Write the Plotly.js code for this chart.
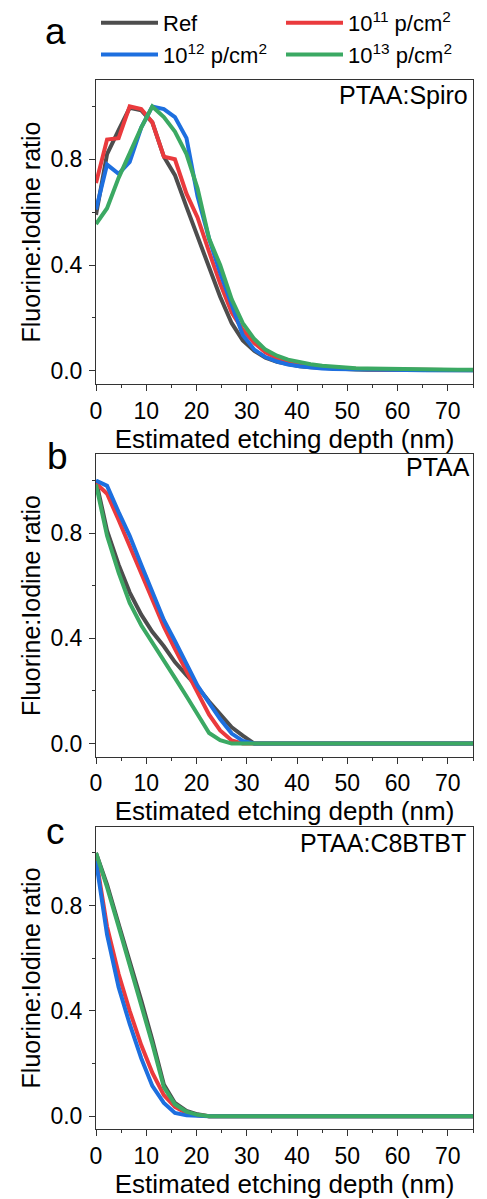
<!DOCTYPE html>
<html><head><meta charset="utf-8">
<script src="https://cdn.plot.ly/plotly-3.0.1.min.js"></script>
<style>html,body{margin:0;padding:0;background:#fff}#chart{width:487px;height:1199px}</style>
</head><body><div id="chart"></div>
<script>
// Estimated etching depth (nm), sampling of the measured profiles
const depth = [0, 2.2, 4.5, 6.7, 9.0, 11.2, 13.5, 15.7, 18.0, 20.2, 22.5, 24.7, 27.0, 29.2, 31.5, 33.7, 36.0, 38.2, 40.5, 42.7, 45.0, 47.2, 49.5, 51.7, 54.0, 56.2, 58.5, 60.7, 63.0, 65.2, 67.5, 69.7, 72.0, 74.2, 76.5];

const seriesNames = ['Ref', '10<sup>11</sup> p/cm<sup>2</sup>', '10<sup>12</sup> p/cm<sup>2</sup>', '10<sup>13</sup> p/cm<sup>2</sup>'];
const seriesColors = ['#4d4d4d', '#ea3a3d', '#1d6fdf', '#3ba963'];

// Panel a: PTAA:Spiro
const spiroRef = [0.59, 0.82, 0.91, 0.995, 0.985, 0.94, 0.81, 0.74, 0.62, 0.51, 0.40, 0.28, 0.18, 0.115, 0.075, 0.050, 0.034, 0.024, 0.017, 0.013, 0.010, 0.008, 0.006, 0.005, 0.004, 0.004, 0.003, 0.003, 0.003, 0.002, 0.002, 0.002, 0.002, 0.002, 0.002];
const spiro11 = [0.71, 0.875, 0.88, 1.0, 0.99, 0.94, 0.81, 0.80, 0.67, 0.58, 0.45, 0.33, 0.22, 0.155, 0.105, 0.070, 0.047, 0.032, 0.023, 0.017, 0.013, 0.010, 0.008, 0.007, 0.006, 0.005, 0.005, 0.004, 0.004, 0.004, 0.003, 0.003, 0.003, 0.003, 0.003];
const spiro12 = [0.61, 0.78, 0.745, 0.79, 0.92, 1.0, 0.99, 0.96, 0.88, 0.66, 0.50, 0.37, 0.25, 0.135, 0.080, 0.052, 0.035, 0.024, 0.017, 0.012, 0.009, 0.007, 0.006, 0.005, 0.004, 0.004, 0.003, 0.003, 0.003, 0.002, 0.002, 0.002, 0.002, 0.002, 0.002];
const spiro13 = [0.555, 0.615, 0.73, 0.82, 0.92, 1.0, 0.96, 0.905, 0.82, 0.69, 0.50, 0.40, 0.27, 0.18, 0.12, 0.080, 0.057, 0.042, 0.032, 0.025, 0.019, 0.015, 0.012, 0.010, 0.009, 0.008, 0.007, 0.006, 0.006, 0.005, 0.005, 0.004, 0.004, 0.004, 0.004];

// Panel b: PTAA
const ptaaRef = [1.0, 0.81, 0.68, 0.575, 0.49, 0.425, 0.37, 0.31, 0.26, 0.215, 0.16, 0.11, 0.062, 0.03, 0, 0, 0, 0, 0, 0, 0, 0, 0, 0, 0, 0, 0, 0, 0, 0, 0, 0, 0, 0, 0];
const ptaa11 = [0.99, 0.95, 0.85, 0.75, 0.64, 0.54, 0.445, 0.36, 0.275, 0.19, 0.11, 0.05, 0.012, 0, 0, 0, 0, 0, 0, 0, 0, 0, 0, 0, 0, 0, 0, 0, 0, 0, 0, 0, 0, 0, 0];
const ptaa12 = [1.0, 0.98, 0.88, 0.79, 0.68, 0.58, 0.47, 0.39, 0.30, 0.22, 0.155, 0.093, 0.038, 0.01, 0, 0, 0, 0, 0, 0, 0, 0, 0, 0, 0, 0, 0, 0, 0, 0, 0, 0, 0, 0, 0];
const ptaa13 = [0.985, 0.79, 0.65, 0.535, 0.45, 0.385, 0.32, 0.25, 0.18, 0.11, 0.04, 0.013, 0, 0, 0, 0, 0, 0, 0, 0, 0, 0, 0, 0, 0, 0, 0, 0, 0, 0, 0, 0, 0, 0, 0];

// Panel c: PTAA:C8BTBT
const c8Ref = [1.0, 0.88, 0.73, 0.59, 0.44, 0.29, 0.12, 0.05, 0.02, 0.007, 0, 0, 0, 0, 0, 0, 0, 0, 0, 0, 0, 0, 0, 0, 0, 0, 0, 0, 0, 0, 0, 0, 0, 0, 0];
const c811 = [0.98, 0.72, 0.54, 0.40, 0.27, 0.165, 0.08, 0.035, 0.012, 0.003, 0, 0, 0, 0, 0, 0, 0, 0, 0, 0, 0, 0, 0, 0, 0, 0, 0, 0, 0, 0, 0, 0, 0, 0, 0];
const c812 = [0.97, 0.69, 0.49, 0.35, 0.22, 0.115, 0.05, 0.012, 0.003, 0, 0, 0, 0, 0, 0, 0, 0, 0, 0, 0, 0, 0, 0, 0, 0, 0, 0, 0, 0, 0, 0, 0, 0, 0, 0];
const c813 = [1.0, 0.87, 0.72, 0.575, 0.425, 0.275, 0.11, 0.045, 0.017, 0.005, 0, 0, 0, 0, 0, 0, 0, 0, 0, 0, 0, 0, 0, 0, 0, 0, 0, 0, 0, 0, 0, 0, 0, 0, 0];

const panelTitles = ['PTAA:Spiro', 'PTAA', 'PTAA:C8BTBT'];
const panelLetters = ['a', 'b', 'c'];
const xTickVals = [0, 10, 20, 30, 40, 50, 60, 70];
const yTickVals = [0, 0.4, 0.8];
const xTitle = 'Estimated etching depth (nm)';
const yTitle = 'Fluorine:Iodine ratio';

const panels = [
  [spiroRef, spiro11, spiro12, spiro13],
  [ptaaRef, ptaa11, ptaa12, ptaa13],
  [c8Ref, c811, c812, c813]
];

const W = 487, H = 1199;
const FONT = 'Liberation Sans, Arial, sans-serif';
const xDom = [96 / W, 473 / W];
const panelPx = [[80, 384], [454.3, 756.7], [826.6, 1129.3]]; // top, bottom in px
const titlePx = [[470, 95], [472, 467], [467.5, 843]];
const letterPx = [[55, 32], [57, 456], [55, 831]];
const legendOf = ['legend', 'legend2', 'legend', 'legend2'];

const traces = [];
panels.forEach((series, p) => {
  series.forEach((vals, s) => {
    traces.push({
      x: depth, y: vals, type: 'scatter', mode: 'lines',
      name: seriesNames[s],
      legend: legendOf[s],
      showlegend: p === 0,
      line: {color: seriesColors[s], width: 4},
      xaxis: p === 0 ? 'x' : 'x' + (p + 1),
      yaxis: p === 0 ? 'y' : 'y' + (p + 1),
      hoverinfo: 'skip'
    });
  });
});

function xAxis(p) {
  return {
    domain: xDom, range: [0, 75], anchor: p === 0 ? 'y' : 'y' + (p + 1),
    tickmode: 'array', tickvals: xTickVals, ticks: 'outside', ticklen: 6, tickwidth: 1, tickcolor: '#333',
    minor: {dtick: 5, tick0: 0, ticks: 'outside', ticklen: 3, tickcolor: '#333', showgrid: false},
    showline: true, linecolor: '#333', linewidth: 1, mirror: true,
    showgrid: false, zeroline: false,
    tickfont: {family: FONT, size: 23, color: '#000'},
    ticklabelstandoff: 0,
    title: {text: xTitle, font: {family: FONT, size: 26, color: '#000'}, standoff: 6},
    automargin: false
  };
}
function yAxis(p) {
  const [t, b] = panelPx[p];
  return {
    domain: [1 - b / H, 1 - t / H], range: [-0.05, 1.1], anchor: p === 0 ? 'x' : 'x' + (p + 1),
    tickmode: 'array', tickvals: yTickVals, tickformat: '.1f', ticks: 'outside', ticklen: 6, tickwidth: 1, tickcolor: '#333',
    minor: {dtick: 0.2, tick0: 0, ticks: 'outside', ticklen: 3, tickcolor: '#333', showgrid: false},
    showline: true, linecolor: '#333', linewidth: 1, mirror: true,
    showgrid: false, zeroline: false,
    tickfont: {family: FONT, size: 23, color: '#000'},
    ticklabelstandoff: 2,
    title: {text: yTitle, font: {family: FONT, size: 25, color: '#000'}, standoff: 2},
    automargin: false
  };
}

const annotations = [];
panelTitles.forEach((t, p) => {
  annotations.push({
    text: t, xref: 'paper', yref: 'paper', x: titlePx[p][0] / W, y: 1 - titlePx[p][1] / H,
    xanchor: 'right', yanchor: 'middle', showarrow: false,
    font: {family: FONT, size: 25, color: '#000'}
  });
  annotations.push({
    text: panelLetters[p], xref: 'paper', yref: 'paper', x: letterPx[p][0] / W, y: 1 - letterPx[p][1] / H,
    xanchor: 'center', yanchor: 'middle', showarrow: false,
    font: {family: FONT, size: 37, color: '#000'}
  });
});

function legendBox(xPx, gap) {
  return {
    orientation: 'v', x: xPx / W, y: 1 - 2 / H, xanchor: 'left', yanchor: 'top',
    itemwidth: 57, tracegroupgap: gap,
    font: {family: FONT, size: 22, color: '#000'},
    bgcolor: 'rgba(0,0,0,0)', borderwidth: 0
  };
}

const layout = {
  width: W, height: H,
  margin: {l: 0, r: 0, t: 0, b: 0},
  paper_bgcolor: '#fff', plot_bgcolor: '#fff',
  font: {family: FONT, color: '#000'},
  showlegend: true,
  legend: legendBox(96, 6),
  legend2: legendBox(281, 1),
  xaxis: xAxis(0), yaxis: yAxis(0),
  xaxis2: xAxis(1), yaxis2: yAxis(1),
  xaxis3: xAxis(2), yaxis3: yAxis(2),
  annotations: annotations
};

Plotly.newPlot('chart', traces, layout, {displayModeBar: false, staticPlot: true});
</script>
</body></html>
